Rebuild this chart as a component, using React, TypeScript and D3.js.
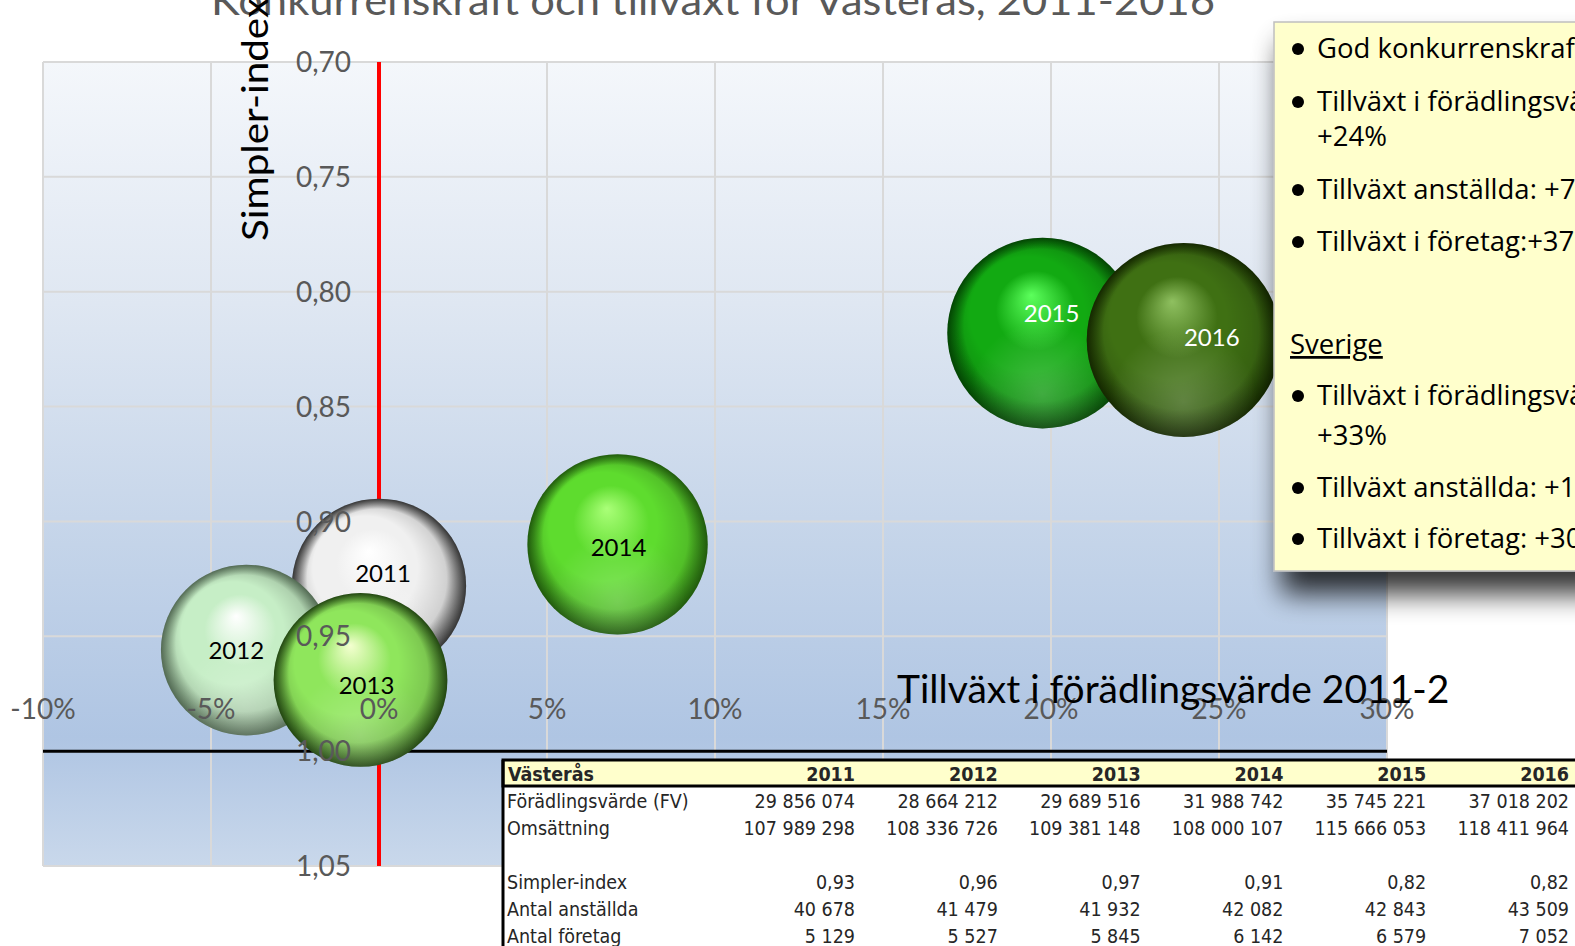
import React from 'react';
import * as d3 from 'd3';

// bubble chart data
const years = ['2011', '2012', '2013', '2014', '2015', '2016'];
const fvGrowth = [0.0, -3.95, -0.55, 7.1, 19.75, 23.95]; // % growth in förädlingsvärde since 2011
const simplerIndex = [0.928, 0.956, 0.969, 0.91, 0.818, 0.821];
const fvValues = [29856074, 28664212, 29689516, 31988742, 35745221, 37018202];

const xTicks = [-10, -5, 0, 5, 10, 15, 20, 25, 30];
const yTicks = [0.7, 0.75, 0.8, 0.85, 0.9, 0.95, 1.0, 1.05];

// table below the chart
const tableTitle = 'Västerås';
const omsattning = [107989298, 108336726, 109381148, 108000107, 115666053, 118411964];
const simplerRow = [0.93, 0.96, 0.97, 0.91, 0.82, 0.82];
const anstallda = [40678, 41479, 41932, 42082, 42843, 43509];
const foretag = [5129, 5527, 5845, 6142, 6579, 7052];

// note box
const boxLines = [
  { text: 'God konkurrenskraft', bullet: true },
  { text: 'Tillväxt i förädlingsvärde:', bullet: true },
  { text: '+24%', bullet: false },
  { text: 'Tillväxt anställda: +7%', bullet: true },
  { text: 'Tillväxt i företag:+37%', bullet: true },
  { text: 'Sverige', bullet: false, underline: true },
  { text: 'Tillväxt i förädlingsvärde:', bullet: true },
  { text: '+33%', bullet: false },
  { text: 'Tillväxt anställda: +10%', bullet: true },
  { text: 'Tillväxt i företag: +30%', bullet: true },
];
const boxBaselines = [58, 111, 146, 199, 251, 354, 405, 445, 497, 548];

// sphere shading: highlight, body, edge
const sphereColors = [
  ['#ffffff', '#f0f0f0', '#444444'],
  ['#ffffff', '#c6eec6', '#6a886b'],
  ['#f4ffd0', '#8fe65c', '#2c5a16'],
  ['#aaff78', '#5edc2e', '#2a7410'],
  ['#5cff5c', '#12aa12', '#045804'],
  ['#8fc060', '#3f7013', '#1a3300'],
];
const labelColors = ['#000', '#000', '#000', '#000', '#fff', '#fff'];
const labelShift = [[4, -12], [-10, 1], [6, 6], [1, 3], [9, -19], [28, -2]];

const W = 1575;
const H = 946;
const tickFont = "Lato, 'Liberation Sans', sans-serif";

const fmtSpace = (v: number) => d3.format(',')(v).replace(/,/g, ' ');
const fmtComma = (v: number) => v.toFixed(2).replace('.', ',');

export default function App() {
  const x = d3.scaleLinear().domain([-10, 30]).range([43, 1387]);
  const y = d3.scaleLinear().domain([0.7, 1.05]).range([62, 866]);
  const r = d3.scaleSqrt().domain([0, d3.max(fvValues) as number]).range([0, 97]);

  const colX = d3.scaleLinear().domain([0, 5]).range([855, 1569]);
  const rowY = d3.scaleLinear().domain([0, 6]).range([781, 943]);

  const tableRows: { label: string; values: string[]; row: number }[] = [
    { label: 'Förädlingsvärde (FV)', values: fvValues.map(fmtSpace), row: 1 },
    { label: 'Omsättning', values: omsattning.map(fmtSpace), row: 2 },
    { label: 'Simpler-index', values: simplerRow.map(fmtComma), row: 4 },
    { label: 'Antal anställda', values: anstallda.map(fmtSpace), row: 5 },
    { label: 'Antal företag', values: foretag.map(fmtSpace), row: 6 },
  ];

  const [x0, x1] = x.range();
  const [y0, y1] = y.range();

  return (
    <svg
      width={W}
      height={H}
      style={{ position: 'absolute', left: 0, top: 0, display: 'block', background: '#fff' }}
    >
      <defs>
        <linearGradient id="plotBg" x1="0" y1="0" x2="0" y2="1">
          <stop offset="0" stopColor="#f4f7fb" />
          <stop offset="0.3" stopColor="#dfe7f2" />
          <stop offset="0.6" stopColor="#c4d4e9" />
          <stop offset="0.84" stopColor="#afc5e3" />
          <stop offset="1" stopColor="#c9d8eb" />
        </linearGradient>
        {sphereColors.map((c, i) => (
          <radialGradient key={i} id={`sphere${i}`} cx="0.5" cy="0.5" r="0.5" fx="0.44" fy="0.3">
            <stop offset="0" stopColor={c[0]} />
            <stop offset="0.42" stopColor={c[1]} />
            <stop offset="0.8" stopColor={c[1]} />
            <stop offset="1" stopColor={c[2]} />
          </radialGradient>
        ))}
        <radialGradient id="sphereShade" cx="0.5" cy="0.5" r="0.5" fx="0.3" fy="0.25">
          <stop offset="0.6" stopColor="#000" stopOpacity="0" />
          <stop offset="1" stopColor="#000" stopOpacity="0.22" />
        </radialGradient>
        <radialGradient id="sphereGlow" cx="0.5" cy="0.82" r="0.38">
          <stop offset="0" stopColor="#fff" stopOpacity="0.22" />
          <stop offset="1" stopColor="#fff" stopOpacity="0" />
        </radialGradient>
        <filter id="boxShadow" x="-20%" y="-20%" width="160%" height="160%">
          <feGaussianBlur in="SourceAlpha" stdDeviation="14" />
          <feOffset dx="8" dy="22" result="off" />
          <feComponentTransfer>
            <feFuncA type="linear" slope="0.8" />
          </feComponentTransfer>
          <feMerge>
            <feMergeNode />
            <feMergeNode in="SourceGraphic" />
          </feMerge>
        </filter>
        <clipPath id="xTitleClip">
          <rect x={0} y={0} width={1448} height={H} />
        </clipPath>
      </defs>

      {/* title, cut at top of the page */}
      <text
        x={211}
        y={15}
        fontFamily={tickFont}
        fontSize={40}
        fill="#595959"
        textLength={1004}
        lengthAdjust="spacingAndGlyphs"
      >
        Konkurrenskraft och tillväxt för Västerås, 2011-2016
      </text>

      {/* plot area */}
      <rect x={x0} y={y0} width={x1 - x0} height={y1 - y0} fill="url(#plotBg)" />
      {xTicks.map((t) => (
        <line key={'gx' + t} x1={x(t)} x2={x(t)} y1={y0} y2={y1} stroke="#d9d9d9" strokeWidth={2} />
      ))}
      {yTicks.map((t) => (
        <line key={'gy' + t} x1={x0} x2={x1} y1={y(t)} y2={y(t)} stroke="#d9d9d9" strokeWidth={2} />
      ))}

      {/* axis lines: red at 0%, black at 1,00 */}
      <line x1={x(0)} x2={x(0)} y1={y0} y2={y1} stroke="#ff0000" strokeWidth={4} />
      <line x1={x0} x2={x1} y1={y(1.0)} y2={y(1.0)} stroke="#000" strokeWidth={3} />

      {/* bubbles */}
      {years.map((yr, i) => {
        const cx = x(fvGrowth[i]);
        const cy = y(simplerIndex[i]);
        const rr = r(fvValues[i]);
        return (
          <g key={yr}>
            <circle cx={cx} cy={cy} r={rr} fill={`url(#sphere${i})`} />
            <circle cx={cx} cy={cy} r={rr} fill="url(#sphereGlow)" />
            <circle cx={cx} cy={cy} r={rr} fill="url(#sphereShade)" />
          </g>
        );
      })}
      {years.map((yr, i) => (
        <text
          key={'lbl' + yr}
          x={x(fvGrowth[i]) + labelShift[i][0]}
          y={y(simplerIndex[i]) + labelShift[i][1]}
          dy="0.35em"
          textAnchor="middle"
          fontFamily={tickFont}
          fontSize={24}
          fill={labelColors[i]}
        >
          {yr}
        </text>
      ))}

      {/* tick labels */}
      {xTicks.map((t) => (
        <text
          key={'tx' + t}
          x={x(t)}
          y={719}
          textAnchor="middle"
          fontFamily={tickFont}
          fontSize={28}
          fill="#595959"
        >
          {`${t}%`}
        </text>
      ))}
      {yTicks.map((t) => (
        <text
          key={'ty' + t}
          x={351}
          y={y(t)}
          dy="0.36em"
          textAnchor="end"
          fontFamily={tickFont}
          fontSize={28}
          fill="#595959"
        >
          {fmtComma(t)}
        </text>
      ))}

      {/* axis titles */}
      <text
        transform="translate(268,241) rotate(-90)"
        fontFamily={tickFont}
        fontSize={36}
        fill="#000"
        textLength={243}
        lengthAdjust="spacingAndGlyphs"
      >
        Simpler-index
      </text>
      <g clipPath="url(#xTitleClip)">
        <text x={897} y={703} fontFamily={tickFont} fontSize={39} fill="#000">
          Tillväxt i förädlingsvärde 2011-2016
        </text>
      </g>

      {/* data table */}
      <g fontFamily="Tahoma, 'DejaVu Sans Condensed', 'Liberation Sans', sans-serif">
        <rect x={503} y={760} width={W} height={H} fill="#fff" />
        <rect x={503} y={760} width={W} height={26} fill="#ffffcc" stroke="#000" strokeWidth={3} />
        <line x1={503} x2={503} y1={760} y2={H} stroke="#000" strokeWidth={3} />
        <text x={508} y={rowY(0)} fontSize={19.5} fontWeight="bold" fill="#262626">
          {tableTitle}
        </text>
        {years.map((yr, i) => (
          <text
            key={'th' + yr}
            x={colX(i)}
            y={rowY(0)}
            textAnchor="end"
            fontSize={19.5}
            fontWeight="bold"
            fill="#262626"
          >
            {yr}
          </text>
        ))}
        {tableRows.map((row) => (
          <g key={row.label}>
            <text x={507} y={rowY(row.row)} fontSize={19.5} fill="#262626">
              {row.label}
            </text>
            {row.values.map((v, i) => (
              <text
                key={i}
                x={colX(i)}
                y={rowY(row.row)}
                textAnchor="end"
                fontSize={19.5}
                fill="#262626"
              >
                {v}
              </text>
            ))}
          </g>
        ))}
      </g>

      {/* note box */}
      <g filter="url(#boxShadow)">
        <rect x={1274} y={22} width={340} height={549} fill="#ffffcc" stroke="#bfbfbf" strokeWidth={1.5} />
      </g>
      <g fontFamily="'Open Sans', 'Noto Sans', sans-serif" fontSize={27.5} fill="#000">
        {boxLines.map((l, i) => (
          <g key={i}>
            {l.bullet && <circle cx={1298} cy={boxBaselines[i] - 9} r={6} fill="#000" />}
            <text
              x={l.underline ? 1290 : 1317}
              y={boxBaselines[i]}
              textDecoration={l.underline ? 'underline' : undefined}
            >
              {l.text}
            </text>
          </g>
        ))}
      </g>
    </svg>
  );
}
